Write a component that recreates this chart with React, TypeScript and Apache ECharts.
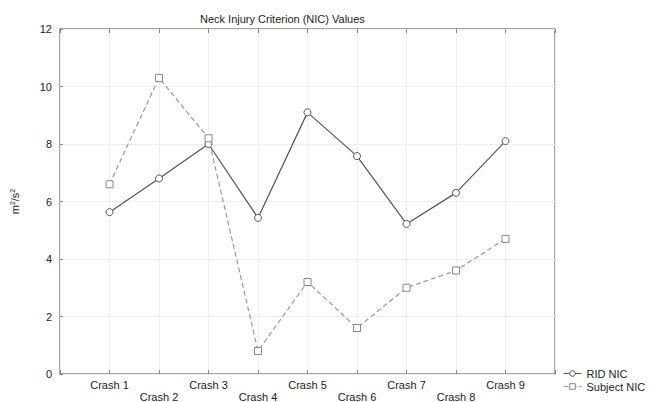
import React, { useEffect, useRef } from "react";
import * as echarts from "echarts";

const categories = ["Crash 1", "Crash 2", "Crash 3", "Crash 4", "Crash 5", "Crash 6", "Crash 7", "Crash 8", "Crash 9"];
const ridNic = [5.63, 6.8, 8.0, 5.43, 9.1, 7.58, 5.22, 6.3, 8.1];
const subjectNic = [6.6, 10.3, 8.2, 0.8, 3.2, 1.6, 3.0, 3.6, 4.7];
const yTicks = [0, 2, 4, 6, 8, 10, 12];

export default function App() {
  const ref = useRef<HTMLDivElement>(null);
  useEffect(() => {
    document.body.style.margin = "0";
    const chart = echarts.init(ref.current!, undefined, { renderer: "svg" });
    const font = "Liberation Sans, Arial, sans-serif";
    const toPts = (vals: number[]) => vals.map((v, i) => [i + 1, v]);
    chart.setOption({
      animation: false,
      backgroundColor: "#ffffff",
      textStyle: { fontFamily: font },
      title: {
        text: "Neck Injury Criterion (NIC) Values",
        left: 195,
        top: 8,
        textStyle: { fontSize: 11, fontWeight: "normal", color: "#222", fontFamily: font },
      },
      grid: {
        left: 60, right: 112, top: 29, bottom: 28,
        outerBoundsMode: "none",
        containLabel: false,
        show: true, borderColor: "#888", borderWidth: 1.5, backgroundColor: "transparent",
      },
      legend: {
        orient: "vertical",
        left: 563,
        top: 368,
        padding: 0,
        itemWidth: 18,
        itemHeight: 7,
        itemGap: 2,
        textStyle: { fontSize: 11, color: "#222", fontFamily: font },
        data: [
          { name: "RID NIC", itemStyle: { borderWidth: 1 }, lineStyle: { width: 1 } },
          { name: "Subject NIC", itemStyle: { borderWidth: 1 }, lineStyle: { width: 1 } },
        ],
      },
      xAxis: [
        {
          type: "value",
          min: 0,
          max: 10,
          interval: 1,
          axisLine: { show: false },
          axisTick: { show: true, inside: true, length: 4, lineStyle: { color: "#888" } },
          splitLine: { show: true, lineStyle: { color: "#eeeeee" } },
          axisLabel: {
            fontSize: 11,
            color: "#222",
            margin: 5,
            lineHeight: 12,
            formatter: (v: number) => {
              if (v < 1 || v > categories.length) return "";
              const name = categories[v - 1];
              return v % 2 === 0 ? "\n" + name : name;
            },
          },
        },
        {
          type: "value",
          position: "top",
          min: 0,
          max: 10,
          interval: 1,
          axisLine: { show: false },
          axisTick: { show: true, inside: true, length: 4, lineStyle: { color: "#888" } },
          axisLabel: { show: false },
          splitLine: { show: false },
        },
      ],
      yAxis: {
        type: "value",
        min: yTicks[0],
        max: yTicks[yTicks.length - 1],
        interval: 2,
        axisLine: { show: false },
        axisTick: { show: true, inside: true, length: 3, lineStyle: { color: "#888" } },
        splitLine: { show: true, lineStyle: { color: "#eeeeee" } },
        axisLabel: { fontSize: 11, color: "#222", margin: 8 },
        name: "m{s|2}/s{s|2}",
        nameLocation: "middle",
        nameGap: 40,
        nameRotate: 90,
        nameTextStyle: {
          fontSize: 11,
          color: "#222",
          rich: { s: { fontSize: 7, verticalAlign: "top", lineHeight: 8, color: "#222" } },
        },
      },
      series: [
        {
          name: "RID NIC",
          type: "line",
          data: toPts(ridNic),
          symbol: "circle",
          symbolSize: 7,
          lineStyle: { color: "#555", width: 1.2 },
          itemStyle: { color: "#fff", borderColor: "#555", borderWidth: 1 },
        },
        {
          name: "Subject NIC",
          type: "line",
          data: toPts(subjectNic),
          symbol: "rect",
          symbolSize: 7,
          lineStyle: { color: "#999", width: 1.2, type: [5, 3] },
          itemStyle: { color: "#fff", borderColor: "#888", borderWidth: 1 },
        },
      ],
    });
    return () => chart.dispose();
  }, []);
  return <div ref={ref} style={{ width: 667, height: 402 }} />;
}
